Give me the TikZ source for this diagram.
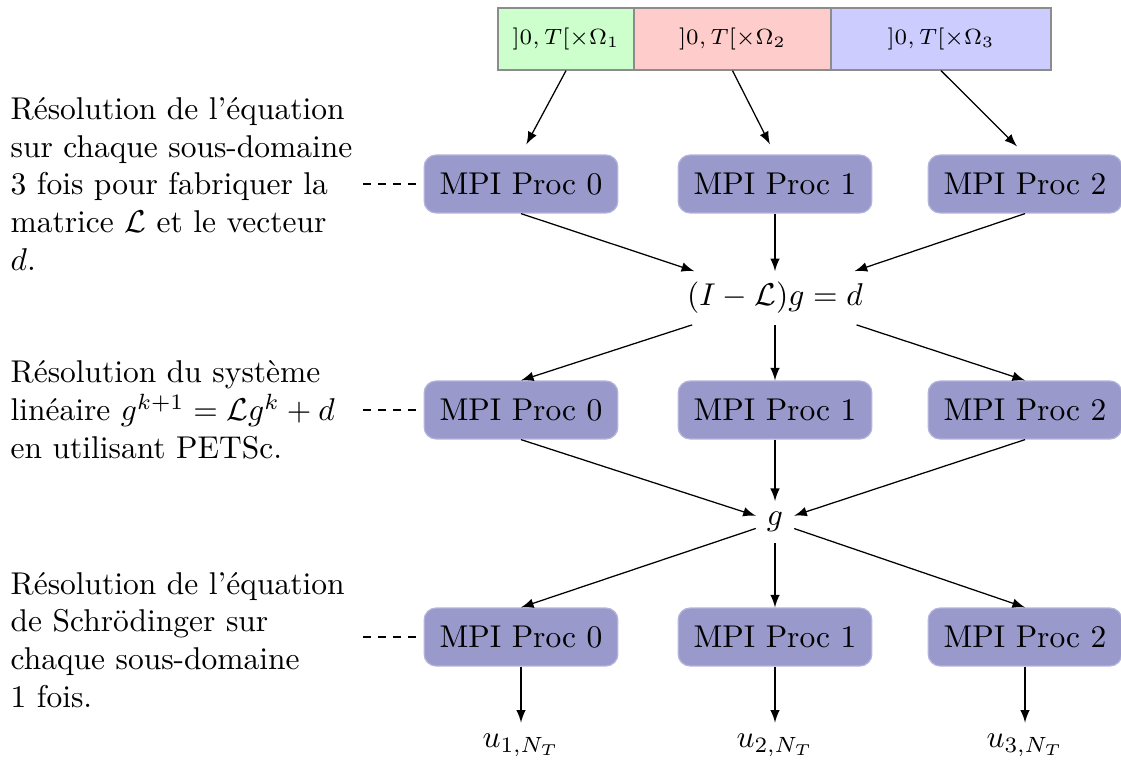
\documentclass[tikz,border=0pt]{standalone}
\usetikzlibrary{arrows.meta}
\definecolor{procfill}{RGB}{153,153,204}
\definecolor{procdraw}{RGB}{178,178,218}
\begin{document}
\begin{tikzpicture}[x=0.3175pt,y=-0.3175pt,
  proc/.style={rectangle,rounded corners=3.8pt,fill=procfill,draw=procdraw,line width=0.4pt,
    minimum width=61.5pt,minimum height=18.4pt,inner sep=0pt},
  dom/.style={rectangle,draw=gray!90,minimum height=19.7pt,inner sep=0pt,font=\scriptsize},
  arr/.style={-latex},
  desc/.style={anchor=west,text width=110pt,align=left,inner sep=0pt},
  dashline/.style={dash pattern=on 2.5pt off 2.3pt}]
\useasboundingbox (0,0) rectangle (1121,763);

% domains
\node[dom,fill=green!20,minimum width=43.2pt] (d1) at (566,39) {$]0,T[\times\Omega_1$};
\node[dom,fill=red!20,minimum width=62.5pt] (d2) at (732.5,39) {$]0,T[\times\Omega_2$};
\node[dom,fill=blue!20,minimum width=69.9pt] (d3) at (941,39) {$]0,T[\times\Omega_3$};

% processes
\node[proc] (p00) at (521,184) {MPI Proc 0};
\node[proc] (p01) at (775,184) {MPI Proc 1};
\node[proc] (p02) at (1025,184) {MPI Proc 2};
\node[proc] (p10) at (521,410) {MPI Proc 0};
\node[proc] (p11) at (775,410) {MPI Proc 1};
\node[proc] (p12) at (1025,410) {MPI Proc 2};
\node[proc] (p20) at (521,637) {MPI Proc 0};
\node[proc] (p21) at (775,637) {MPI Proc 1};
\node[proc] (p22) at (1025,637) {MPI Proc 2};

\node (eq) at (775,298) {$(I-\mathcal{L})g=d$};
\node (g) at (775,522) {$g$};

\node (u0) at (521,745) {$u_{1,N_T}$};
\node (u1) at (775,745) {$u_{2,N_T}$};
\node (u2) at (1025,745) {$u_{3,N_T}$};

% descriptions
\node[desc] (t0) at (10,184) {Résolution de l'équation\\ sur chaque sous-domaine\\ 3 fois pour fabriquer la\\ matrice $\mathcal{L}$ et le vecteur\\ $d$.};
\node[desc] (t1) at (10,410) {Résolution du système\\ linéaire $g^{k+1}=\mathcal{L}g^k+d$\\ en utilisant PETSc.};
\node[desc] (t2) at (10,640) {Résolution de l'équation\\ de Schrödinger sur\\ chaque sous-domaine\\ 1 fois.};

\draw[dashline,shorten <=1.7pt,shorten >=1.8pt] (t0.east) -- (p00.west);
\draw[dashline,shorten <=1.7pt,shorten >=1.8pt] (t1.east) -- (p10.west);
\draw[dashline,shorten <=1.7pt,shorten >=1.8pt] (t2.east|-p20.west) -- (p20.west);

% arrows
\draw[arr,shorten >=3.6pt] (d1.south) -- (p00.north);
\draw[arr,shorten >=3.6pt] (d2.south) -- (p01.north);
\draw[arr,shorten >=3.6pt] (d3.south) -- (p02.north);
\foreach \i in {0,1,2}{
  \draw[arr] (p0\i.south) -- (eq);
  \draw[arr] (eq) -- (p1\i.north);
  \draw[arr] (p1\i.south) -- (g);
  \draw[arr] (g) -- (p2\i.north);
  \draw[arr] (p2\i.south) -- (u\i);
}
\end{tikzpicture}
\end{document}
